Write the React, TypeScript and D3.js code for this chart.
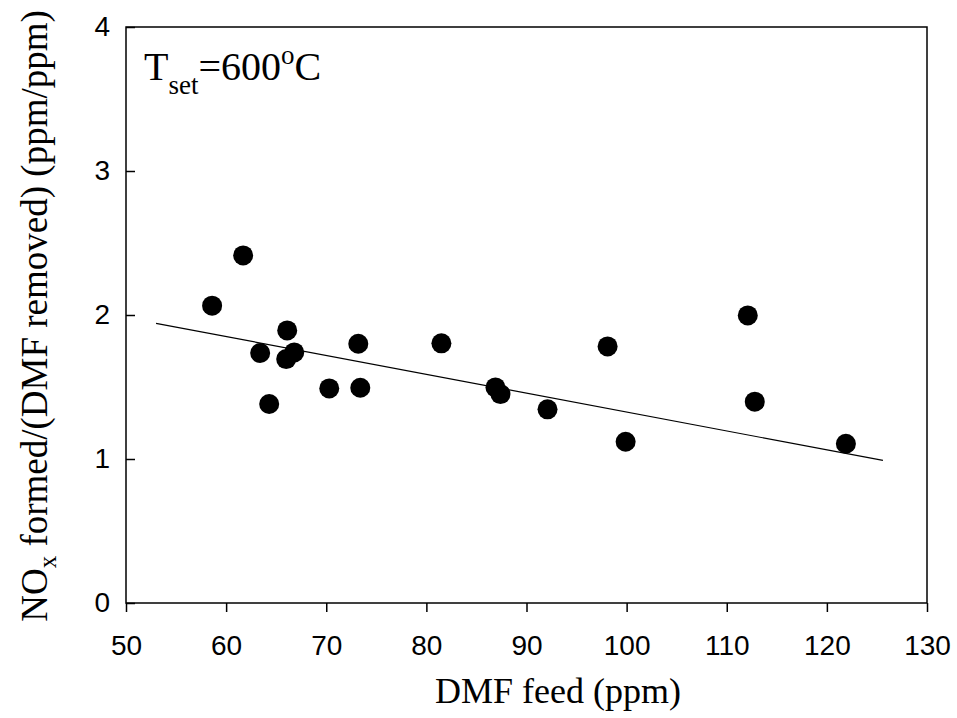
import { useEffect, useRef } from 'react';
import * as d3 from 'd3';

// DMF feed (ppm) vs NOx formed / DMF removed
const dmfFeed = [58.6, 61.7, 63.4, 64.3, 66.1, 66.0, 66.8, 70.3, 73.2, 73.4, 81.5, 86.9, 87.4, 92.1, 98.1, 99.9, 112.1, 112.8, 121.9];
const noxRatio = [2.065, 2.414, 1.736, 1.382, 1.893, 1.694, 1.740, 1.490, 1.800, 1.495, 1.803, 1.497, 1.451, 1.345, 1.782, 1.120, 1.997, 1.398, 1.106];

// fitted line end points
const fitX = [53.0, 125.6];
const fitY = [1.942, 0.990];

const xTicks = [50, 60, 70, 80, 90, 100, 110, 120, 130];
const yTicks = [0, 1, 2, 3, 4];

const App = () => {
    const svgRef = useRef<SVGSVGElement>(null);

    useEffect(() => {
        const svg = d3.select(svgRef.current);
        svg.selectAll('*').remove();

        const left = 126, right = 927, top = 27, bottom = 603;
        const x = d3.scaleLinear().domain([50, 130]).range([left, right]);
        const y = d3.scaleLinear().domain([0, 4]).range([bottom, top]);

        const sans = 'Liberation Sans, Arial, sans-serif';
        const serif = 'Liberation Serif, Times New Roman, serif';

        // x axis
        const xAxis = svg.append('g')
            .attr('transform', `translate(0,${bottom})`)
            .call(d3.axisBottom(x).tickValues(xTicks).tickSize(9).tickSizeOuter(0).tickPadding(23).tickFormat(d3.format('d')));
        xAxis.select('.domain').remove();
        xAxis.selectAll('line').attr('stroke', '#000').attr('stroke-width', 1.5);
        xAxis.selectAll('text').attr('font-family', sans).attr('font-size', 28).attr('fill', '#000');

        // y axis (ticks inward)
        const yAxis = svg.append('g')
            .attr('transform', `translate(${left},0)`)
            .call(d3.axisLeft(y).tickValues(yTicks).tickSize(-9).tickSizeOuter(0).tickPadding(16).tickFormat(d3.format('d')));
        yAxis.select('.domain').remove();
        yAxis.selectAll('line').attr('stroke', '#000').attr('stroke-width', 1.5);
        yAxis.selectAll('text').attr('font-family', sans).attr('font-size', 28).attr('fill', '#000');

        // frame
        svg.append('rect')
            .attr('x', left).attr('y', top)
            .attr('width', right - left).attr('height', bottom - top)
            .attr('fill', 'none').attr('stroke', '#000').attr('stroke-width', 1.5);

        // regression line
        const line = d3.line<number>()
            .x((d, i) => x(fitX[i]))
            .y(d => y(d));
        svg.append('path')
            .datum(fitY)
            .attr('d', line)
            .attr('fill', 'none')
            .attr('stroke', '#000')
            .attr('stroke-width', 1.2);

        // points
        svg.append('g')
            .selectAll('circle')
            .data(dmfFeed)
            .enter()
            .append('circle')
            .attr('cx', d => x(d))
            .attr('cy', (d, i) => y(noxRatio[i]))
            .attr('r', 10)
            .attr('fill', '#000');

        // annotation
        const ann = svg.append('text')
            .attr('x', 144).attr('y', 80)
            .attr('font-family', serif).attr('font-size', 40).attr('fill', '#000');
        ann.append('tspan').text('T');
        ann.append('tspan').attr('font-size', 27).attr('dy', 14).text('set');
        ann.append('tspan').attr('dy', -14).text('=600');
        ann.append('tspan').attr('font-size', 27).attr('dy', -16).text('o');
        ann.append('tspan').attr('dy', 16).text('C');

        // x title
        svg.append('text')
            .attr('x', 558).attr('y', 703)
            .attr('text-anchor', 'middle')
            .attr('font-family', serif).attr('font-size', 36).attr('fill', '#000')
            .text('DMF feed (ppm)');

        // y title
        const yt = svg.append('text')
            .attr('transform', 'translate(47,316) rotate(-90)')
            .attr('text-anchor', 'middle')
            .attr('font-family', serif).attr('font-size', 37).attr('fill', '#000');
        yt.append('tspan').text('NO');
        yt.append('tspan').attr('font-size', 25).attr('dy', 9).text('x');
        yt.append('tspan').attr('dy', -9).text(' formed/(DMF removed) (ppm/ppm)');
    }, []);

    return (
        <svg ref={svgRef} width={957} height={718}
            style={{ position: 'absolute', left: 0, top: 0, background: '#fff' }} />
    );
};

export default App;
